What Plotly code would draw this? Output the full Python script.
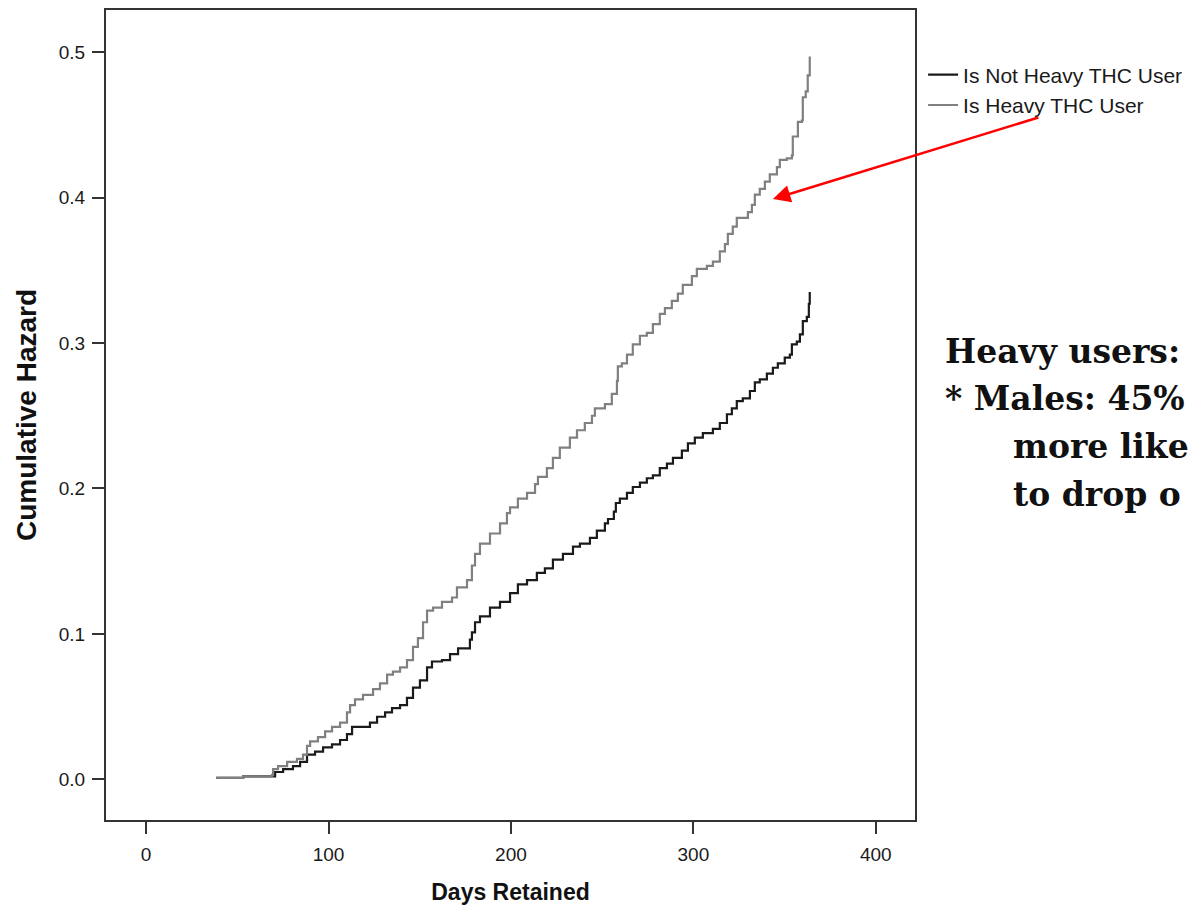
import plotly.graph_objects as go

# ---- data (days, cumulative hazard) ----
heavy_days = [38.4, 53.2, 69.0, 69.6, 72.3, 77.3, 82.7, 86.0, 88.2, 89.9, 94.2, 98.1, 101.9, 106.3,
              110.1, 111.8, 114.5, 118.9, 124.4, 128.2, 132.1, 135.3, 139.2, 143.0, 146.3, 149.0,
              151.8, 154.0, 157.3, 162.2, 167.7, 170.4, 175.9, 178.6, 180.3, 183.0, 188.5, 194.0,
              197.8, 199.5, 203.8, 208.8, 213.2, 214.8, 219.7, 223.0, 226.8, 232.3, 236.2, 240.5,
              244.4, 246.0, 251.5, 255.3, 258.1, 258.6, 260.8, 263.6, 266.8, 270.7, 274.5, 277.8,
              281.6, 284.4, 288.2, 291.5, 294.2, 299.2, 301.9, 307.4, 310.7, 314.5, 317.3, 318.9,
              321.6, 323.8, 329.9, 332.1, 333.7, 336.4, 339.2, 341.9, 345.8, 347.4, 351.2, 354.0,
              354.5, 357.3, 359.5, 360.0, 361.6, 362.7, 363.8]
heavy_hazard = [0.001, 0.002, 0.003, 0.007, 0.009, 0.012, 0.014, 0.017, 0.023, 0.026, 0.029, 0.033,
                0.036, 0.039, 0.046, 0.051, 0.055, 0.058, 0.062, 0.066, 0.072, 0.074, 0.077, 0.082,
                0.091, 0.097, 0.108, 0.116, 0.118, 0.122, 0.125, 0.132, 0.137, 0.147, 0.155, 0.162,
                0.169, 0.176, 0.183, 0.187, 0.193, 0.197, 0.203, 0.208, 0.214, 0.221, 0.228, 0.235,
                0.240, 0.245, 0.250, 0.255, 0.258, 0.265, 0.274, 0.284, 0.286, 0.292, 0.299, 0.305,
                0.307, 0.313, 0.320, 0.324, 0.329, 0.334, 0.340, 0.346, 0.351, 0.353, 0.356, 0.363,
                0.368, 0.375, 0.380, 0.386, 0.390, 0.395, 0.402, 0.406, 0.411, 0.416, 0.421, 0.426,
                0.427, 0.429, 0.442, 0.452, 0.453, 0.469, 0.473, 0.484, 0.497]

nonheavy_days = [38.4, 53.2, 69.0, 70.7, 75.1, 80.5, 84.4, 88.2, 92.6, 97.0, 101.9, 106.3, 110.1,
                 112.9, 117.3, 122.7, 126.6, 131.0, 134.8, 139.2, 143.0, 146.3, 150.1, 154.0, 156.7,
                 162.2, 166.6, 171.0, 177.5, 178.6, 180.3, 183.0, 188.5, 194.0, 199.5, 203.8, 208.8,
                 214.2, 218.6, 223.0, 228.5, 234.0, 237.8, 243.3, 247.1, 251.5, 253.2, 256.4, 257.5,
                 259.7, 263.6, 266.8, 270.7, 274.5, 277.8, 281.6, 285.5, 288.8, 293.7, 297.0, 300.8,
                 305.2, 310.7, 314.5, 318.4, 321.1, 323.8, 327.1, 331.0, 333.7, 336.4, 340.3, 343.6,
                 346.3, 350.1, 352.9, 354.0, 356.7, 358.4, 360.0, 362.2, 363.3, 363.8]
nonheavy_hazard = [0.001, 0.002, 0.002, 0.005, 0.007, 0.009, 0.012, 0.017, 0.019, 0.022, 0.024,
                   0.027, 0.031, 0.036, 0.036, 0.039, 0.043, 0.046, 0.049, 0.051, 0.056, 0.063,
                   0.068, 0.077, 0.081, 0.082, 0.086, 0.090, 0.096, 0.101, 0.108, 0.112, 0.118,
                   0.122, 0.128, 0.134, 0.137, 0.142, 0.145, 0.151, 0.155, 0.160, 0.162, 0.166,
                   0.171, 0.176, 0.179, 0.184, 0.190, 0.193, 0.197, 0.201, 0.204, 0.207, 0.209,
                   0.214, 0.217, 0.221, 0.226, 0.231, 0.235, 0.238, 0.241, 0.245, 0.251, 0.255,
                   0.260, 0.262, 0.267, 0.273, 0.275, 0.279, 0.283, 0.286, 0.290, 0.292, 0.299,
                   0.301, 0.306, 0.315, 0.318, 0.327, 0.335]

series_names = ["Is Not Heavy THC User", "Is Heavy THC User"]
x_ticks = [0, 100, 200, 300, 400]
y_ticks = [0.0, 0.1, 0.2, 0.3, 0.4, 0.5]
# the side note as it appears in the reference (its last two lines run off the slide edge)
note_lines = ["Heavy users:", "* Males: 45%", "more like", "to drop o"]
arrow_target = (343.6, 0.399)

fig = go.Figure()
fig.add_trace(go.Scatter(x=nonheavy_days, y=nonheavy_hazard, mode="lines", name=series_names[0],
                         line=dict(color="#1a1a1a", width=2.2, shape="hv")))
fig.add_trace(go.Scatter(x=heavy_days, y=heavy_hazard, mode="lines", name=series_names[1],
                         line=dict(color="#808080", width=2.2, shape="hv")))

axis_common = dict(showline=True, linecolor="#333333", linewidth=2, mirror=True,
                   showgrid=False, zeroline=False, ticks="outside", ticklen=12, tickwidth=2,
                   tickcolor="#333333",
                   tickfont=dict(family="Liberation Sans, Arial, sans-serif", size=19, color="#1a1a1a"))

fig.update_xaxes(range=[-22, 421.5], tickvals=x_ticks, ticktext=[str(v) for v in x_ticks],
                 ticklabelstandoff=4,
                 title=dict(text="<b>Days Retained</b>", standoff=20,
                            font=dict(family="Liberation Sans, Arial", size=23, color="#111111")),
                 **axis_common)
fig.update_yaxes(range=[-0.028, 0.529], tickvals=y_ticks, ticktext=[f"{v:.1f}" for v in y_ticks],
                 ticklabelstandoff=3,
                 title=dict(text="<b>Cumulative Hazard</b>", standoff=14,
                            font=dict(family="Liberation Sans, Arial", size=28, color="#111111")),
                 **axis_common)

# red arrow pointing at the heavy-user curve
fig.add_annotation(x=arrow_target[0], y=arrow_target[1], xref="x", yref="y", text="",
                   showarrow=True, ax=267, ay=-82, arrowcolor="red", arrowwidth=2.5,
                   arrowhead=2, arrowsize=1.4, standoff=0)

# side note text
note_pos = [(1.035, 0.579), (1.035, 0.520), (1.119, 0.461), (1.119, 0.402)]
for txt, (px, py) in zip(note_lines, note_pos):
    fig.add_annotation(x=px, y=py, xref="paper", yref="paper", text=f"<b>{txt}</b>",
                       showarrow=False, xanchor="left", yanchor="middle",
                       font=dict(family="DejaVu Serif, Liberation Serif, serif", size=33, color="#111111"))

fig.update_layout(
    width=1203, height=909,
    margin=dict(l=106, r=288, t=8, b=88),
    paper_bgcolor="white", plot_bgcolor="white",
    showlegend=True,
    legend=dict(x=1.01, y=0.945, xanchor="left", yanchor="top",
                font=dict(family="Liberation Sans, Arial, sans-serif", size=21, color="#1a1a1a"),
                bgcolor="rgba(0,0,0,0)", tracegroupgap=0, itemwidth=30),
)

fig.write_html("out.html")
